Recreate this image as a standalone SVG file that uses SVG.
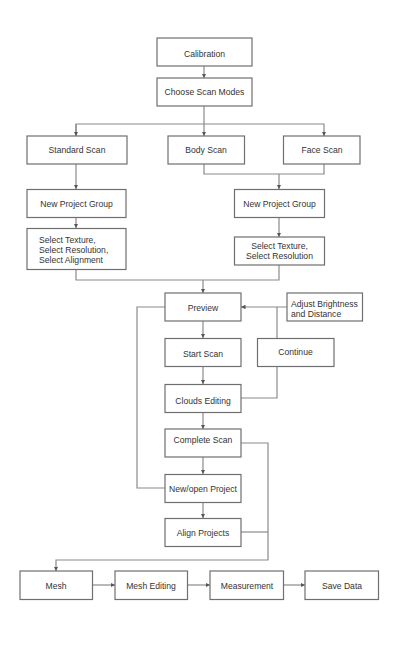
<svg xmlns="http://www.w3.org/2000/svg" width="409" height="669" viewBox="0 0 409 669">
<style>
.n rect{fill:#fff;stroke:#6f6f6f;stroke-width:1.2}
text{font-family:"Liberation Sans",Arial,sans-serif;font-size:8.6px;fill:#333}
.c{text-anchor:middle}
#edges path{fill:none;stroke:#8a8a8a;stroke-width:1.2}
</style>
<defs>
<marker id="a" viewBox="0 0 6 6" refX="6" refY="3" markerWidth="4.5" markerHeight="4.5" orient="auto" markerUnits="userSpaceOnUse">
<path d="M0,0 L6,3 L0,6 z" fill="#555"/>
</marker>
</defs>
<rect width="409" height="669" fill="#fff"/>
<g id="edges">
<path d="M204,66 V78" marker-end="url(#a)"/>
<path d="M204,106 V136" marker-end="url(#a)"/>
<path d="M76,136 V124 H324 V136" marker-end="url(#a)"/>
<path d="M76,124 V136" marker-end="url(#a)"/>
<path d="M204,164 V174 H324 V164"/>
<path d="M279,174 V189" marker-end="url(#a)"/>
<path d="M76,164 V189" marker-end="url(#a)"/>
<path d="M76,217 V228" marker-end="url(#a)"/>
<path d="M279,217 V237" marker-end="url(#a)"/>
<path d="M76,269 V280 H279 V265"/>
<path d="M203,280 V293" marker-end="url(#a)"/>
<path d="M287,307 H241" marker-end="url(#a)"/>
<path d="M277,307 V338"/>
<path d="M277,366 V398 H241"/>
<path d="M203,321 V338" marker-end="url(#a)"/>
<path d="M203,366 V384" marker-end="url(#a)"/>
<path d="M203,412 V429" marker-end="url(#a)"/>
<path d="M203,457 V474" marker-end="url(#a)"/>
<path d="M203,502 V518" marker-end="url(#a)"/>
<path d="M165,307 H137 V488 H165"/>
<path d="M241,443 H268 V560 H56 V571" marker-end="url(#a)"/>
<path d="M241,532 H268"/>
<path d="M93,585 H115" marker-end="url(#a)"/>
<path d="M188,585 H210" marker-end="url(#a)"/>
<path d="M283,585 H305" marker-end="url(#a)"/>
</g>
<g id="calibration" class="n"><rect x="157" y="38" width="95" height="28"/><text class="c" x="204.5" y="57">Calibration</text></g>
<g id="choose" class="n"><rect x="157" y="78" width="95" height="28"/><text class="c" x="204.5" y="95">Choose Scan Modes</text></g>
<g id="standard" class="n"><rect x="27" y="136" width="100" height="28"/><text class="c" x="77" y="153">Standard Scan</text></g>
<g id="body" class="n"><rect x="168" y="136" width="76.5" height="28"/><text class="c" x="206" y="153">Body Scan</text></g>
<g id="face" class="n"><rect x="283.5" y="136" width="76.5" height="28"/><text class="c" x="322" y="153">Face Scan</text></g>
<g id="npg1" class="n"><rect x="27" y="189.5" width="99" height="28"/><text class="c" x="76.5" y="206.5">New Project Group</text></g>
<g id="npg2" class="n"><rect x="234.5" y="189.5" width="90" height="28"/><text class="c" x="279.5" y="206.5">New Project Group</text></g>
<g id="sel1" class="n"><rect x="27" y="228.5" width="99" height="41"/><text x="39" y="242.5">Select Texture,</text><text x="39" y="252.5">Select Resolution,</text><text x="39" y="262.5">Select Alignment</text></g>
<g id="sel2" class="n"><rect x="234.5" y="237" width="90" height="28"/><text class="c" x="279.5" y="249">Select Texture,</text><text class="c" x="279.5" y="259">Select Resolution</text></g>
<g id="preview" class="n"><rect x="165" y="293" width="76" height="28"/><text class="c" x="203" y="311">Preview</text></g>
<g id="adjust" class="n"><rect x="287" y="293" width="75.5" height="28"/><text x="291" y="307">Adjust Brightness</text><text x="291" y="317">and Distance</text></g>
<g id="start" class="n"><rect x="165" y="338.5" width="76" height="28"/><text class="c" x="203" y="357">Start Scan</text></g>
<g id="continue" class="n"><rect x="257.5" y="338.5" width="76.5" height="28"/><text class="c" x="295.5" y="355">Continue</text></g>
<g id="clouds" class="n"><rect x="165" y="384.5" width="76" height="28"/><text class="c" x="203" y="404">Clouds Editing</text></g>
<g id="complete" class="n"><rect x="165" y="429" width="76" height="28"/><text class="c" x="203" y="443">Complete Scan</text></g>
<g id="newopen" class="n"><rect x="165" y="474.5" width="76" height="28"/><text class="c" x="203" y="491.5">New/open Project</text></g>
<g id="align" class="n"><rect x="165" y="518.5" width="76" height="28"/><text class="c" x="203" y="536">Align Projects</text></g>
<g id="mesh" class="n"><rect x="20" y="571" width="72.5" height="28.5"/><text class="c" x="56" y="589">Mesh</text></g>
<g id="meshedit" class="n"><rect x="115" y="571" width="72.5" height="28.5"/><text class="c" x="151" y="589">Mesh Editing</text></g>
<g id="measure" class="n"><rect x="210" y="571" width="73.5" height="28.5"/><text class="c" x="247" y="589">Measurement</text></g>
<g id="save" class="n"><rect x="305" y="571" width="73.5" height="28.5"/><text class="c" x="342" y="589">Save Data</text></g>
</svg>
